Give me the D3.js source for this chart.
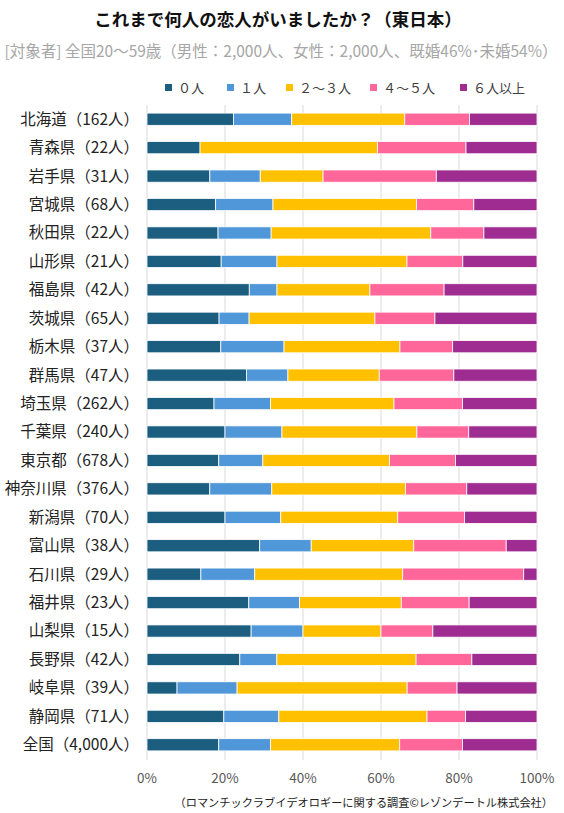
<!DOCTYPE html>
<html>
<head>
<meta charset="utf-8">
<script src="https://cdn.jsdelivr.net/npm/d3@7"></script>
<style>
body{margin:0;background:#fff;}
svg{font-family:"Noto Sans CJK JP","Noto Sans",sans-serif;}
</style>
</head>
<body>
<div id="chart"></div>
<script>
// data (percent per prefecture)
var prefs = ["北海道","青森県","岩手県","宮城県","秋田県","山形県","福島県","茨城県","栃木県","群馬県","埼玉県","千葉県","東京都","神奈川県","新潟県","富山県","石川県","福井県","山梨県","長野県","岐阜県","静岡県","全国"];
var counts = ["162","22","31","68","22","21","42","65","37","47","262","240","678","376","70","38","29","23","15","42","39","71","4,000"];
var seriesNames = ["０人","１人","２～３人","４～５人","６人以上"];
var zero  = [22.2,13.6,16.1,17.6,18.2,19.0,26.2,18.5,18.9,25.5,17.2,20.0,18.4,16.1,20.0,28.9,13.8,26.1,26.7,23.8,7.7,19.7,18.4];
var one   = [14.9,0,12.9,14.7,13.6,14.3,7.1,7.7,16.2,10.6,14.5,14.6,11.3,15.9,14.3,13.2,13.8,13.0,13.3,9.5,15.4,14.1,13.3];
var two3  = [29.0,45.5,16.1,36.8,40.9,33.3,23.8,32.3,29.7,23.4,31.7,34.6,32.5,34.3,30.0,26.3,37.9,26.1,20.0,35.7,43.6,38.0,33.1];
var four5 = [16.6,22.7,29.0,14.7,13.6,14.3,19.0,15.4,13.5,19.1,17.6,13.3,16.9,15.7,17.1,23.7,31.0,17.4,13.3,14.3,12.8,9.9,16.1];
var six   = [17.3,18.2,25.8,16.2,13.6,19.0,23.8,26.2,21.6,21.3,19.1,17.5,20.9,18.0,18.6,7.9,3.4,17.4,26.7,16.7,20.5,18.3,19.1];
var ticks = [0,0.2,0.4,0.6,0.8,1];

var colors = ["#1b5e7f","#5097d9","#ffc000","#ff6699","#9e2c91"];
var W = 564, H = 813;

var rows = prefs.map(function(p,i){
	return {label:p+"（"+counts[i]+"人）", s0:zero[i], s1:one[i], s2:two3[i], s3:four5[i], s4:six[i]};
});
var keys = ["s0","s1","s2","s3","s4"];
var stacked = d3.stack().keys(keys).offset(d3.stackOffsetExpand)(rows);

var svg = d3.select("#chart").append("svg").attr("width",W).attr("height",H);

var x = d3.scaleLinear().domain([0,1]).range([147,537]);
var y = d3.scaleBand().domain(d3.range(rows.length)).range([105,759]).paddingInner(0.57).paddingOuter(0.285);

//title
svg.append("text").attr("x",278).attr("y",26).attr("text-anchor","middle")
	.style("font-size","17.5px").style("font-weight","bold").attr("fill","#111")
	.text("これまで何人の恋人がいましたか？（東日本）");
svg.append("text").attr("x",281).attr("y",57).attr("text-anchor","middle")
	.style("font-size","15.5px").attr("fill","#a6a6a6")
	.text("[対象者] 全国20～59歳（男性：2,000人、女性：2,000人、既婚46%･未婚54%）");

//legend
var legX = [165,227,286,370,460];
var leg = svg.selectAll(".leg").data(seriesNames).enter().append("g").attr("class","leg")
	.attr("transform",function(d,i){return "translate("+legX[i]+",88)";});
leg.append("rect").attr("x",0).attr("y",-4).attr("width",7).attr("height",7)
	.attr("fill",function(d,i){return colors[i];});
leg.append("text").attr("x",13).attr("y",5).style("font-size","13px").attr("fill","#404040")
	.text(function(d){return d;});

//grid
svg.selectAll(".grid").data(ticks).enter().append("line").attr("class","grid")
	.attr("x1",function(d){return x(d);}).attr("x2",function(d){return x(d);})
	.attr("y1",105).attr("y2",760)
	.attr("stroke","#d9d9d9").attr("stroke-width",1);

//bars
var layer = svg.selectAll(".layer").data(stacked).enter().append("g").attr("class","layer")
	.attr("fill",function(d,i){return colors[i];});
layer.selectAll("rect").data(function(d){return d;}).enter().append("rect")
	.attr("x",function(d){return x(d[0]);})
	.attr("y",function(d,i){return y(i);})
	.attr("width",function(d){return Math.max(0,x(d[1])-x(d[0]));})
	.attr("height",y.bandwidth())
	.attr("stroke","#fff").attr("stroke-width",0.8);

//category labels
svg.selectAll(".cat").data(rows).enter().append("text").attr("class","cat")
	.attr("x",139).attr("y",function(d,i){return y(i)+y.bandwidth()/2;})
	.attr("dy","0.35em").attr("text-anchor","end")
	.style("font-size","15.5px").attr("fill","#222")
	.text(function(d){return d.label;});

//x axis labels
svg.selectAll(".tick").data(ticks).enter().append("text").attr("class","tick")
	.attr("x",function(d){return x(d);}).attr("y",783).attr("text-anchor","middle")
	.style("font-size","13.5px").attr("fill","#595959")
	.text(function(d){return d3.format(".0%")(d);});

//source
svg.append("text").attr("x",553).attr("y",807).attr("text-anchor","end")
	.style("font-size","11.2px").attr("fill","#222")
	.text("（ロマンチックラブイデオロギーに関する調査©レゾンデートル株式会社）");
</script>
</body>
</html>
